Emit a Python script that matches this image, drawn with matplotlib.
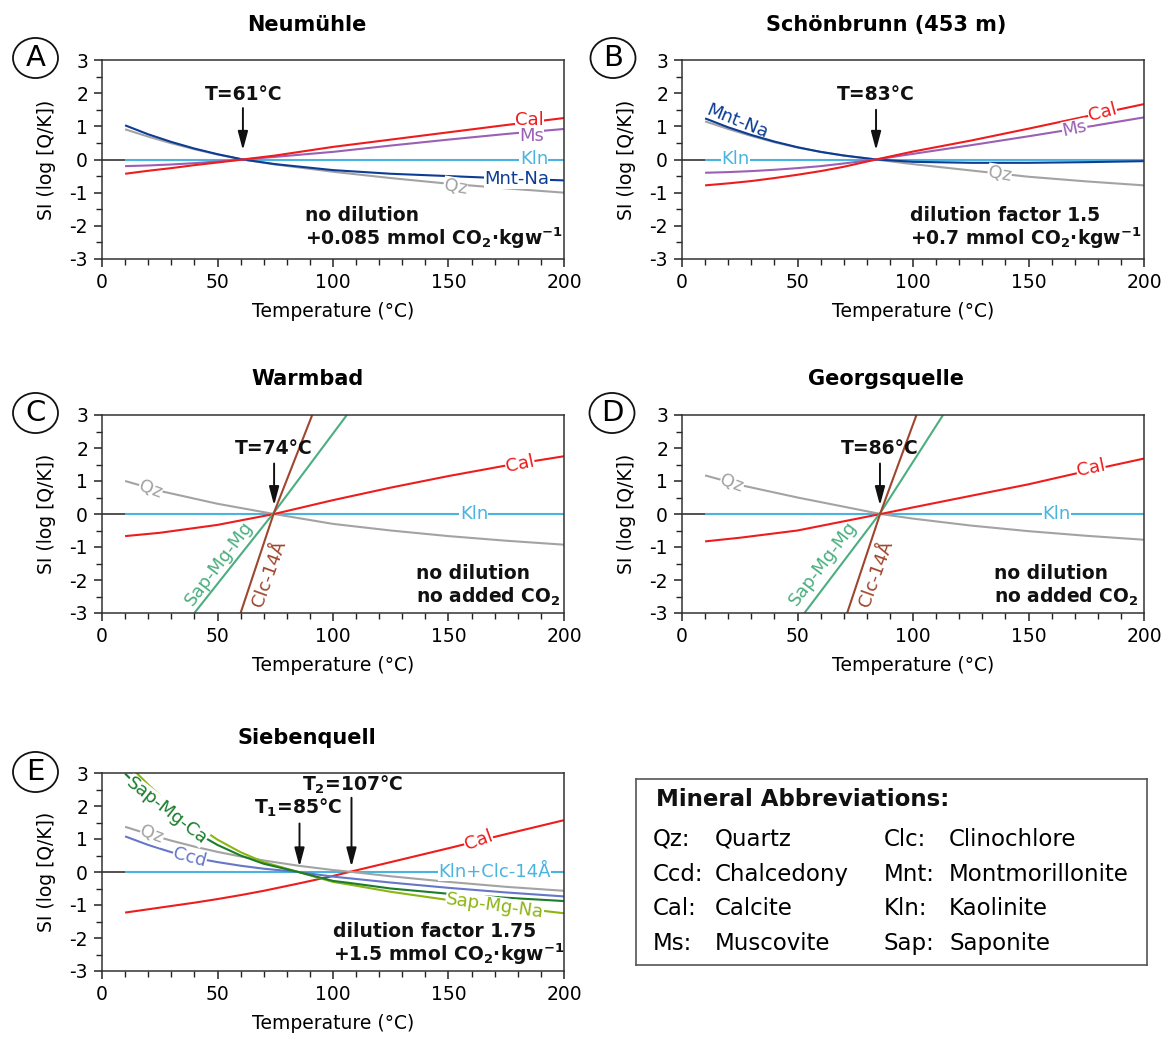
import numpy as np
import matplotlib
matplotlib.use('Agg')
import matplotlib.pyplot as plt
from matplotlib.patches import Circle
from matplotlib.ticker import MultipleLocator

plt.rcParams['font.family'] = ['DejaVu Sans']
plt.rcParams['mathtext.fontset'] = 'dejavusans'
plt.rcParams['axes.unicode_minus'] = False

# colours
c_cal = '#ee1c1c'
c_ms = '#9b5fb4'
c_kln = '#4ab4e0'
c_mnt = '#0d3c94'
c_qz = '#a3a3a3'
c_sap = '#4cae80'
c_clc = '#a0452e'
c_sapca = '#1a7d2c'
c_sapna = '#8cb512'
c_ccd = '#6676c8'

# ---- data (temperature in degC, SI) ----
# A: Neumuehle
A_T = [10, 20, 30, 40, 50, 61, 75, 100, 125, 150, 175, 200]
A_cal = [-0.43, -0.34, -0.26, -0.17, -0.09, 0.0, 0.12, 0.38, 0.6, 0.82, 1.04, 1.25]
A_ms = [-0.2, -0.18, -0.15, -0.11, -0.06, 0.0, 0.08, 0.23, 0.42, 0.6, 0.77, 0.92]
A_mnt = [1.03, 0.76, 0.53, 0.33, 0.16, 0.0, -0.14, -0.32, -0.43, -0.5, -0.57, -0.63]
A_qz = [0.91, 0.69, 0.49, 0.31, 0.15, 0.0, -0.15, -0.37, -0.56, -0.73, -0.87, -1.0]

# B: Schoenbrunn
B_T = [10, 20, 30, 40, 50, 60, 70, 84, 100, 125, 150, 175, 200]
B_cal = [-0.78, -0.72, -0.65, -0.56, -0.46, -0.35, -0.22, 0.0, 0.24, 0.57, 0.93, 1.3, 1.67]
B_ms = [-0.4, -0.38, -0.35, -0.31, -0.26, -0.2, -0.12, 0.0, 0.17, 0.43, 0.7, 0.98, 1.27]
B_mnt = [1.24, 0.97, 0.74, 0.54, 0.37, 0.23, 0.12, 0.0, -0.07, -0.1, -0.1, -0.08, -0.05]
B_qz = [1.15, 0.92, 0.71, 0.52, 0.36, 0.23, 0.12, 0.0, -0.14, -0.33, -0.52, -0.66, -0.78]

# C: Warmbad
C_T = [10, 25, 50, 74.5, 100, 125, 150, 175, 200]
C_cal = [-0.67, -0.57, -0.33, 0.0, 0.42, 0.8, 1.15, 1.47, 1.75]
C_qz = [1.0, 0.7, 0.31, 0.0, -0.3, -0.5, -0.67, -0.81, -0.93]
C_sap_T = [40, 74.5, 106]
C_sap = [-3, 0.05, 3]
C_clc_T = [60, 74.5, 91]
C_clc = [-3, 0.05, 3]

# D: Georgsquelle
D_T = [10, 25, 50, 86, 100, 125, 150, 175, 200]
D_cal = [-0.83, -0.72, -0.5, 0.0, 0.2, 0.55, 0.9, 1.3, 1.68]
D_qz = [1.17, 0.88, 0.5, 0.0, -0.14, -0.35, -0.52, -0.66, -0.78]
D_sap_T = [53, 86, 113]
D_sap = [-3, 0.05, 3]
D_clc_T = [71.5, 86, 101.5]
D_clc = [-3, 0.05, 3]

# E: Siebenquell
E_T = [10, 20, 30, 40, 50, 60, 70, 85, 100, 107, 125, 150, 175, 200]
E_cal = [-1.23, -1.13, -1.03, -0.93, -0.82, -0.7, -0.57, -0.35, -0.12, 0.0, 0.3, 0.72, 1.15, 1.57]
E_qz = [1.37, 1.15, 0.95, 0.77, 0.61, 0.47, 0.35, 0.19, 0.06, 0.01, -0.13, -0.3, -0.45, -0.57]
E_ccd = [1.08, 0.82, 0.6, 0.43, 0.3, 0.19, 0.1, 0.0, -0.14, -0.19, -0.32, -0.48, -0.62, -0.74]
E_sapca = [2.98, 2.3, 1.72, 1.22, 0.82, 0.5, 0.25, 0.0, -0.27, -0.33, -0.5, -0.66, -0.78, -0.88]
E_sapna_T = [15, 20, 30, 40, 50, 60, 70, 85, 100, 107, 125, 150, 175, 200]
E_sapna = [3.0, 2.65, 2.0, 1.45, 0.98, 0.6, 0.3, 0.0, -0.3, -0.38, -0.6, -0.85, -1.05, -1.25]

abbrev_left = [('Qz:', 'Quartz'), ('Ccd:', 'Chalcedony'), ('Cal:', 'Calcite'), ('Ms:', 'Muscovite')]
abbrev_right = [('Clc:', 'Clinochlore'), ('Mnt:', 'Montmorillonite'), ('Kln:', 'Kaolinite'), ('Sap:', 'Saponite')]

W, H = 1164, 1037
fig = plt.figure(figsize=(W / 100, H / 100), dpi=100)


def add_ax(l, t, r, b):
    return fig.add_axes([l / W, 1 - b / H, (r - l) / W, (b - t) / H])


def setup(ax):
    ax.set_xlim(0, 200)
    ax.set_ylim(-3, 3)
    ax.xaxis.set_major_locator(MultipleLocator(50))
    ax.xaxis.set_minor_locator(MultipleLocator(10))
    ax.yaxis.set_major_locator(MultipleLocator(1))
    ax.yaxis.set_minor_locator(MultipleLocator(0.5))
    ax.tick_params(which='major', direction='out', length=6, width=1.1, labelsize=13.5, pad=4, color='#222222')
    ax.tick_params(which='minor', direction='out', length=4, width=1.0, color='#222222')
    for s in ax.spines.values():
        s.set_linewidth(1.1)
        s.set_color('#333333')
    ax.set_xlabel('Temperature (°C)', fontsize=13.5)
    ax.set_ylabel('SI (log [Q/K])', fontsize=13.5)
    ax.xaxis.set_label_coords(0.5, -0.215)
    ax.yaxis.set_label_coords(-0.10, 0.5)
    ax.plot([0, 10], [0, 0], color='#222222', lw=1.1)


def line(ax, x, y, c):
    ax.plot(x, y, color=c, lw=1.5, solid_capstyle='butt')


def lab(ax, x, y, s, c, rot=0):
    ax.text(x, y, s, color=c, fontsize=13, ha='center', va='center', rotation=rot,
            rotation_mode='anchor', zorder=5,
            bbox=dict(fc='white', ec='none', pad=0.3))


def arrow(ax, x, y0, y1):
    ax.annotate('', xy=(x, y1), xytext=(x, y0),
                arrowprops=dict(arrowstyle='-|>,head_length=0.75,head_width=0.2', color='#111111',
                                lw=1.4, mutation_scale=15, shrinkA=0, shrinkB=0))


def bold(ax, x, y, s, ha='center'):
    ax.text(x, y, s, fontsize=13.5, fontweight='bold', ha=ha, va='center', color='#111111')


def letter(cx, cy, s):
    fig.patches.append(Circle((cx / W, 1 - cy / H), 22.5 / W, transform=fig.transFigure,
                              fill=False, ec='#111111', lw=1.3))
    fig.text(cx / W, 1 - cy / H, s, fontsize=21, ha='center', va='center')


def title(cx, cy, s):
    fig.text(cx / W, 1 - cy / H, s, fontsize=15, fontweight='bold', ha='center', va='center')


co2 = r'mmol CO$_\mathbf{2}$·kgw$^\mathbf{-1}$'

# ---- A ----
ax = add_ax(102, 60, 564, 259)
setup(ax)
line(ax, [10, 200], [0, 0], c_kln)
line(ax, A_T, A_qz, c_qz)
line(ax, A_T, A_mnt, c_mnt)
line(ax, A_T, A_ms, c_ms)
line(ax, A_T, A_cal, c_cal)
lab(ax, 185, 1.2, 'Cal', c_cal)
lab(ax, 186, 0.7, 'Ms', c_ms)
lab(ax, 187, 0, 'Kln', c_kln)
lab(ax, 179.5, -0.6, 'Mnt-Na', c_mnt)
lab(ax, 153, -0.82, 'Qz', c_qz, -10)
arrow(ax, 61, 1.55, 0.28)
bold(ax, 61.5, 1.95, 'T=61°C')
bold(ax, 88, -1.69, 'no dilution', ha='left')
bold(ax, 88, -2.37, '+0.085 ' + co2, ha='left')
letter(35.5, 58, 'A')
title(307, 25, 'Neumühle')

# ---- B ----
ax = add_ax(682, 60, 1144, 259)
setup(ax)
line(ax, [10, 200], [0, 0], c_kln)
line(ax, B_T, B_qz, c_qz)
line(ax, B_T, B_mnt, c_mnt)
line(ax, B_T, B_ms, c_ms)
line(ax, B_T, B_cal, c_cal)
ax.text(24, 1.15, 'Mnt-Na', color=c_mnt, fontsize=13, ha='center', va='center', rotation=-22,
        rotation_mode='anchor', zorder=5)
lab(ax, 23, 0, 'Kln', c_kln)
lab(ax, 137.5, -0.43, 'Qz', c_qz, -10)
lab(ax, 170, 0.92, 'Ms', c_ms, 12)
lab(ax, 182, 1.42, 'Cal', c_cal, 15)
arrow(ax, 84, 1.5, 0.28)
bold(ax, 84, 1.95, 'T=83°C')
bold(ax, 98.5, -1.69, 'dilution factor 1.5', ha='left')
bold(ax, 98.5, -2.37, '+0.7 ' + co2, ha='left')
letter(613, 58, 'B')
title(886, 25, 'Schönbrunn (453 m)')

# ---- C ----
ax = add_ax(102, 415, 564, 613)
setup(ax)
line(ax, [10, 200], [0, 0], c_kln)
line(ax, C_T, C_qz, c_qz)
line(ax, C_T, C_cal, c_cal)
line(ax, C_sap_T, C_sap, c_sap)
line(ax, C_clc_T, C_clc, c_clc)
lab(ax, 21, 0.75, 'Qz', c_qz, -20)
lab(ax, 181, 1.5, 'Cal', c_cal, 12)
lab(ax, 161, 0, 'Kln', c_kln)
ax.text(50.5, -1.5, 'Sap-Mg-Mg', color=c_sap, fontsize=13, ha='center', va='center', rotation=53,
        rotation_mode='anchor', zorder=5)
ax.text(72.5, -1.8, 'Clc-14Å', color=c_clc, fontsize=13, ha='center', va='center', rotation=70,
        rotation_mode='anchor', zorder=5)
arrow(ax, 74.5, 1.53, 0.26)
bold(ax, 74.5, 1.98, 'T=74°C')
bold(ax, 136, -1.81, 'no dilution', ha='left')
bold(ax, 136, -2.5, r'no added CO$_\mathbf{2}$', ha='left')
letter(35.5, 413, 'C')
title(307, 379, 'Warmbad')

# ---- D ----
ax = add_ax(682, 415, 1144, 613)
setup(ax)
line(ax, [10, 200], [0, 0], c_kln)
line(ax, D_T, D_qz, c_qz)
line(ax, D_T, D_cal, c_cal)
line(ax, D_sap_T, D_sap, c_sap)
line(ax, D_clc_T, D_clc, c_clc)
lab(ax, 21.6, 0.92, 'Qz', c_qz, -20)
lab(ax, 177, 1.38, 'Cal', c_cal, 12)
lab(ax, 162, 0, 'Kln', c_kln)
ax.text(61, -1.5, 'Sap-Mg-Mg', color=c_sap, fontsize=13, ha='center', va='center', rotation=53,
        rotation_mode='anchor', zorder=5)
ax.text(84, -1.8, 'Clc-14Å', color=c_clc, fontsize=13, ha='center', va='center', rotation=70,
        rotation_mode='anchor', zorder=5)
arrow(ax, 85.7, 1.53, 0.26)
bold(ax, 85.7, 1.98, 'T=86°C')
bold(ax, 135, -1.81, 'no dilution', ha='left')
bold(ax, 135, -2.5, r'no added CO$_\mathbf{2}$', ha='left')
letter(612, 413, 'D')
title(886, 379, 'Georgsquelle')

# ---- E ----
ax = add_ax(102, 773, 564, 971)
setup(ax)
line(ax, [10, 200], [0, 0], c_kln)
line(ax, E_T, E_cal, c_cal)
line(ax, E_T, E_qz, c_qz)
line(ax, E_T, E_ccd, c_ccd)
line(ax, E_sapna_T, E_sapna, c_sapna)
line(ax, E_T, E_sapca, c_sapca)
lab(ax, 28, 1.85, 'Sap-Mg-Ca', c_sapca, -38)
lab(ax, 21.6, 1.13, 'Qz', c_qz, -20)
lab(ax, 38, 0.45, 'Ccd', c_ccd, -15)
lab(ax, 163, 0.95, 'Cal', c_cal, 20)
lab(ax, 170, 0, 'Kln+Clc-14Å', c_kln)
lab(ax, 170, -1.03, 'Sap-Mg-Na', c_sapna, -8)
arrow(ax, 85.5, 1.47, 0.16)
bold(ax, 85, 1.95, r'T$_\mathbf{1}$=85°C')
arrow(ax, 108, 2.25, 0.16)
bold(ax, 108.5, 2.63, r'T$_\mathbf{2}$=107°C')
bold(ax, 100, -1.8, 'dilution factor 1.75', ha='left')
bold(ax, 100, -2.5, '+1.5 ' + co2, ha='left')
letter(35.5, 772, 'E')
title(307, 738, 'Siebenquell')

# ---- abbreviation box ----
lg = add_ax(636, 779, 1147, 965)
lg.set_xticks([])
lg.set_yticks([])
for s in lg.spines.values():
    s.set_color('#555555')
    s.set_linewidth(1.2)
lg.text(0.04, 0.892, 'Mineral Abbreviations:', fontsize=16.5, fontweight='bold', ha='left',
        va='center', transform=lg.transAxes, color='#111111')
rows_y = [0.677, 0.489, 0.306, 0.118]
for yy, (a, b) in zip(rows_y, abbrev_left):
    lg.text(0.033, yy, a, fontsize=16.5, ha='left', va='center', transform=lg.transAxes)
    lg.text(0.155, yy, b, fontsize=16.5, ha='left', va='center', transform=lg.transAxes)
for yy, (a, b) in zip(rows_y, abbrev_right):
    lg.text(0.485, yy, a, fontsize=16.5, ha='left', va='center', transform=lg.transAxes)
    lg.text(0.613, yy, b, fontsize=16.5, ha='left', va='center', transform=lg.transAxes)

fig.savefig('out.png', dpi=100)
